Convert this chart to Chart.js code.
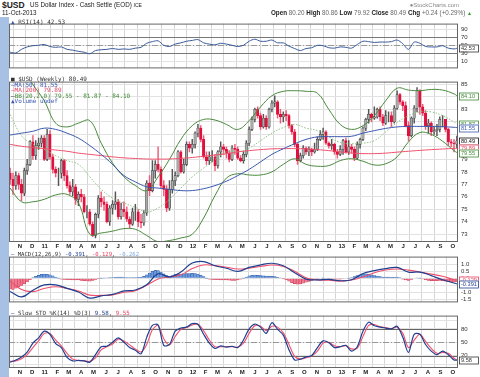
<!DOCTYPE html>
<html>
<head>
<meta charset="utf-8">
<script src="https://cdn.jsdelivr.net/npm/chart.js@4.4.0/dist/chart.umd.min.js"></script>
<style>
  html, body { margin: 0; padding: 0; background: #fff; }
  #wrap { position: relative; width: 480px; height: 377px; overflow: hidden; background: #fff; }
  #strip { position: absolute; left: 0; top: 17px; width: 9px; height: 360px; background: #a7c1e4; }
  canvas { position: absolute; }
  .t { position: absolute; white-space: nowrap; line-height: 1; font-family: "Liberation Sans", Arial, sans-serif; color: #222; }
  .m { position: absolute; white-space: nowrap; line-height: 1; font-family: "DejaVu Sans Mono", monospace; font-size: 6px; color: #333; }
</style>
</head>
<body>
<div id="wrap">
  <div id="strip"></div>
  <canvas id="rsi" width="471" height="58" style="left:9px;top:17px"></canvas>
  <canvas id="price" width="471" height="175" style="left:9px;top:75px"></canvas>
  <canvas id="macd" width="471" height="59" style="left:9px;top:250px"></canvas>
  <canvas id="sto" width="471" height="68" style="left:9px;top:309px"></canvas>

  <div class="t" style="left:2px;top:1px;font-size:8.5px;font-weight:bold">$USD</div>
  <div class="t" style="left:30px;top:2px;font-size:6.3px">US Dollar Index - Cash Settle (EOD) <span style="font-size:5px">ICE</span></div>
  <div class="t" style="left:2px;top:10px;font-size:6.3px">11-Oct-2013</div>
  <div class="t" style="right:21px;top:2px;font-size:6px;color:#8a8a8a">&#9679;StockCharts.com</div>
  <div class="t" style="right:8px;top:10px;font-size:6.3px"><b>Open</b> <span style="color:#666">80.20</span> <b>High</b> <span style="color:#666">80.86</span> <b>Low</b> <span style="color:#666">79.92</span> <b>Close</b> <span style="color:#666">80.49</span> <b>Chg</b> <span style="color:#666">+0.24 (+0.29%)</span> <span style="color:#2a9a2a;font-size:5px">&#9650;</span></div>

  <div class="m" style="left:11px;top:19px"><span style="color:#3a5a9a">&#9650;</span> RSI(14) 42.53</div>

  <div class="m" style="left:11px;top:76px"><span style="color:#333">&#9632;</span> $USD (Weekly) 80.49</div>
  <div class="m" style="left:11px;top:81.5px;color:#3a58b0">&#8212;MA(50) 81.55</div>
  <div class="m" style="left:11px;top:87px;color:#e8405e">&#8212;MA(200) 79.89</div>
  <div class="m" style="left:11px;top:92.5px;color:#3f8a34"><span style="color:#222">&#8212;</span>BB(20,2.0) 79.55 - 81.87 - 84.10</div>
  <div class="m" style="left:11px;top:98px;color:#3a58b0">&#9650;Volume undef</div>

  <div class="m" style="left:11px;top:252px;font-size:5.6px"><span style="color:#1f3f8f">&#8212;</span> MACD(12,26,9) <span style="color:#1f3f8f">-0.391</span>, <span style="color:#e8405e">-0.129</span>, <span style="color:#7aa6e0">-0.262</span></div>
  <div class="m" style="left:11px;top:311px;font-size:5.8px"><span style="color:#1f3f8f">&#8212;</span> Slow STO %K(14) %D(3) <span style="color:#1f3f8f">9.58</span>, <span style="color:#e8405e">9.55</span></div>
</div>

<script>
// ---- weekly candles, 8-Oct-2010 .. 11-Oct-2013 ----
const opens = [77.9,77.4,76.9,77.7,77.0,76.3,78.1,78.6,80.4,79.3, 80.1,80.3,80.7,79.0,81.0,79.2,78.2,77.9,77.9,78.9,
  77.7,76.9,76.4,76.8,75.8,76.2,76.0,74.8,74.8,73.8, 72.9,74.6,75.9,75.6,75.4,74.0,75.1,75.4,75.6,74.4,
  75.0,74.8,74.2,73.8,74.8,74.8,74.0,73.9,74.7,77.1, 76.5,78.1,78.6,78.2,76.9,76.6,75.1,76.6,77.3,77.7,
  79.6,78.0,78.6,80.2,79.9,80.2,81.1,81.5,80.6,79.2, 78.9,79.2,79.2,78.5,79.6,80.0,79.8,79.5,79.0,79.9,
  79.8,79.1,78.9,79.4,80.3,81.4,82.2,83.0,82.5,81.6, 82.3,81.6,83.0,83.5,83.6,82.6,82.4,82.6,82.5,81.7,
  81.2,80.2,78.9,79.3,79.9,79.6,79.8,79.6,79.8,80.6, 81.0,81.2,80.3,80.1,80.2,79.6,79.4,79.8,80.5,79.6,
  80.0,79.8,79.1,80.2,80.6,81.5,82.2,82.6,82.3,82.4, 83.0,82.4,81.9,82.5,82.5,82.0,83.1,84.2,83.6,83.3,
  81.7,80.9,82.3,83.1,84.5,83.2,82.7,81.7,81.9,81.2, 81.3,81.4,82.2,82.2,81.4,80.4,80.3,80.20];
const highs = [78.3,77.9,78.0,77.9,77.4,78.3,79.0,80.5,80.9,80.5, 80.7,80.9,80.9,81.4,81.3,79.4,78.4,78.3,79.0,79.0,
  78.1,77.2,77.4,77.0,76.4,76.6,76.2,75.3,75.0,74.0, 74.7,76.1,76.4,76.0,75.6,75.3,75.7,76.4,75.8,75.5,
  75.6,75.2,74.4,75.1,75.4,75.0,74.6,74.9,77.3,77.7, 78.9,78.9,80.0,78.4,77.3,76.9,77.3,78.2,78.0,79.7,
  79.7,79.0,80.4,80.4,80.6,81.2,81.8,81.7,80.9,79.6, 79.6,79.7,79.4,79.7,80.4,80.2,80.0,79.7,80.1,80.2,
  80.0,79.3,79.6,80.5,81.6,82.4,83.1,83.2,82.7,82.6, 82.5,83.1,83.7,84.1,83.7,83.0,82.8,82.9,82.6,81.8,
  81.4,80.3,79.5,80.1,80.0,80.0,79.9,80.3,80.8,81.3, 81.5,81.3,80.4,80.6,80.3,79.8,80.1,80.6,80.7,80.5,
  80.2,80.0,80.4,80.7,81.6,82.3,83.0,82.7,83.2,83.1, 83.2,82.6,82.9,82.8,82.8,83.3,84.5,84.3,83.7,83.6,
  82.0,82.4,83.3,84.75,84.6,83.4,82.9,82.2,82.0,81.6, 81.8,82.4,82.5,82.2,81.5,80.6,80.6,80.86];
const lows = [77.0,76.2,76.6,76.6,75.7,76.1,77.8,78.5,79.0,79.0, 79.8,80.0,78.9,78.9,79.0,77.9,77.6,76.9,77.5,77.3,
  76.7,76.2,76.1,75.4,75.3,75.6,74.7,74.3,73.7,72.8, 72.7,74.3,75.2,74.9,73.9,73.7,74.6,75.0,74.2,74.2,
  74.4,74.0,73.5,73.7,74.1,73.6,73.5,73.7,74.5,76.1, 76.4,77.5,78.0,76.7,76.1,74.8,74.9,76.3,76.9,77.6,
  77.9,77.9,78.5,79.6,79.5,79.9,80.8,80.4,79.1,78.6, 78.6,78.8,78.1,78.3,79.2,79.4,79.1,78.8,78.9,79.4,
  79.0,78.8,78.7,79.2,80.1,81.3,82.0,82.3,81.4,81.5, 81.4,81.5,82.8,83.2,82.3,81.9,82.0,82.1,81.5,81.0,
  80.0,78.6,78.8,79.1,79.4,79.3,79.3,79.5,79.7,80.5, 80.6,80.2,79.9,79.8,79.4,79.1,79.3,79.4,79.5,79.4,
  79.5,78.9,79.0,79.9,80.5,81.3,81.9,82.0,82.2,82.3, 82.1,81.7,81.8,82.0,81.6,81.9,83.0,83.4,82.9,81.6,
  80.5,80.8,81.9,82.8,82.6,82.5,81.4,81.1,80.9,81.0, 80.9,81.2,81.6,81.2,80.1,80.0,79.6,79.92];
const closes = [77.4,76.9,77.7,77.0,76.3,78.1,78.6,80.4,79.3,80.1, 80.3,80.7,79.0,81.0,79.2,78.2,77.9,77.9,78.9,77.7,
  76.9,76.4,76.8,75.8,76.2,76.0,74.8,74.8,73.8,72.9, 74.6,75.9,75.6,75.4,74.0,75.1,75.4,75.6,74.4,75.0,
  74.8,74.2,73.8,74.8,74.8,74.0,73.9,74.7,77.1,76.5, 78.1,78.6,78.2,76.9,76.6,75.1,76.6,77.3,77.7,79.6,
  78.0,78.6,80.2,79.9,80.2,81.1,81.5,80.6,79.2,78.9, 79.2,79.2,78.5,79.6,80.0,79.8,79.5,79.0,79.9,79.8,
  79.1,78.9,79.4,80.3,81.4,82.2,83.0,82.5,81.6,82.3, 81.6,83.0,83.5,83.6,82.6,82.4,82.6,82.5,81.7,81.2,
  80.2,78.9,79.3,79.9,79.6,79.8,79.6,79.8,80.6,81.0, 81.2,80.3,80.1,80.2,79.6,79.4,79.8,80.5,79.6,80.0,
  79.8,79.1,80.2,80.6,81.5,82.2,82.6,82.3,82.4,83.0, 82.4,81.9,82.5,82.5,82.0,83.1,84.2,83.6,83.3,81.7,
  80.9,82.3,83.1,84.5,83.2,82.7,81.7,81.9,81.2,81.3, 81.4,82.2,82.2,81.4,80.4,80.3,80.25,80.49];

// ---- overlay lines, read every 4 weeks ----
const weeks4 = [0,4,8,12,16,20,24,28,32,36,40,44,48,52,56,60,64,68,72,76,80,84,88,92,96,100,104,108,112,116,120,124,128,132,136,140,144,148,152,156,157];
const ma50 = [80.95,81.1,81.25,81.5,81.4,81.1,80.7,80.1,79.4,78.6, 77.7,77.2,76.8,76.7,76.6,76.5,76.5,76.65,76.9,77.25,
  77.7,78.2,78.8,79.4,79.85,80.25,80.6,80.8,80.82,80.82, 80.85,81.1,81.3,81.48,81.6,81.64,81.64,81.64,81.62,81.57, 81.55];
const ma200 = [80.2,80.05,79.95,79.85,79.75,79.65,79.5,79.4,79.3,79.2, 79.12,79.07,79.03,79.02,79.03,79.08,79.15,79.25,79.35,79.45,
  79.6,79.7,79.78,79.84,79.86,79.86,79.84,79.78,79.7,79.6, 79.5,79.46,79.46,79.5,79.58,79.65,79.72,79.78,79.83,79.88, 79.89];
const bbUpper = [88.5,86.5,85.0,83.7,81.9,81.6,81.9,82.1,80.3,78.7, 77.6,76.9,76.5,77.6,79.0,80.6,81.7,82.2,82.15,81.8,
  81.4,82.1,83.2,84.1,84.45,84.5,84.45,84.3,83.0,81.8, 81.4,81.7,82.5,83.7,84.7,84.55,84.5,84.6,84.55,84.25, 84.10];
const bbMid = [82.6,80.9,80.2,79.8,79.3,78.9,78.6,77.6,76.6,75.9, 75.5,75.15,74.8,75.1,75.8,76.7,77.6,78.3,79.0,79.6,
  79.6,79.9,80.5,81.1,81.55,81.8,81.5,81.3,80.8,80.35, 80.25,80.3,80.5,81.2,81.95,82.5,82.8,82.8,82.5,82.0, 81.87];
const bbLower = [76.7,75.6,75.6,75.8,76.15,76.2,75.5,73.0,73.1,73.25, 73.45,73.4,72.9,72.4,72.5,72.7,73.0,74.3,76.1,77.5,
  77.85,77.75,77.75,78.0,78.6,79.05,78.6,78.45,78.5,78.9, 79.05,78.85,78.55,78.65,79.2,80.4,81.15,81.0,80.45,79.7, 79.55];
const macdLine = [-0.94,-1.33,-0.85,-0.47,-0.46,-0.72,-0.98,-1.41,-1.25,-1.15, -0.9,-0.83,-0.45,0.33,0.1,0.45,1.1,1.2,0.9,0.72,
  0.5,0.78,0.96,1.08,0.9,0.4,-0.05,-0.11,-0.07,-0.17, -0.1,0.35,0.55,0.7,0.78,0.44,0.45,0.2,-0.1,-0.33, -0.391];
const signalLine = [-0.2,-0.8,-0.95,-0.72,-0.6,-0.72,-0.9,-1.2,-1.22,-1.18, -1.0,-0.88,-0.5,-0.05,0.1,0.25,0.7,0.96,0.91,0.8,
  0.67,0.72,0.85,0.95,0.85,0.5,0.05,-0.11,-0.13,-0.2, -0.12,0.1,0.4,0.6,0.67,0.59,0.45,0.3,0.15,-0.1, -0.129];
// weekly MACD histogram
const macdHist = [-0.75,-0.8,-0.7,-0.6,-0.5,-0.4,-0.25,-0.1, 0.05,0.15,0.22,0.28,0.3,0.28,0.25,0.18,
  0.1,0.02,-0.05,-0.08,-0.1,-0.1,-0.12,-0.12, -0.12,-0.14,-0.16,-0.18,-0.2,-0.15,-0.08,-0.02,
  0.02,0.03,0.04,0.05,0.06,0.08,0.1,0.1, 0.08,0.06,0.05,0.06,0.06,0.08,0.1,0.15,
  0.25,0.38,0.5,0.58,0.55,0.45,0.32,0.2, 0.15,0.2,0.28,0.3,0.3,0.32,0.35,0.35,
  0.36,0.34,0.3,0.22,0.12,0.02,-0.05,-0.08, -0.1,-0.1,-0.12,-0.12,-0.12,-0.13,-0.14,-0.14,
  -0.12,-0.06,0.02,0.1,0.18,0.22,0.24,0.22, 0.2,0.18,0.16,0.15,0.14,0.12,0.08,0.04,
  -0.02,-0.1,-0.2,-0.3,-0.38,-0.42,-0.4,-0.34, -0.28,-0.22,-0.15,-0.1,-0.05,0.0,0.02,0.0,
  -0.03,-0.05,-0.05,-0.06,-0.05,-0.03,0.0,0.02, 0.05,0.12,0.2,0.26,0.3,0.32,0.3,0.26,
  0.2,0.16,0.12,0.1,0.1,0.1,0.08,0.08, 0.1,0.05,-0.05,-0.12,-0.14,-0.08,0.0,0.04,
  0.02,-0.04,-0.1,-0.14,-0.16,-0.17,-0.16,-0.14, -0.16,-0.2,-0.24,-0.25,-0.26,-0.262];

// ---- oscillators, read every 2 weeks ----
const weeks2 = [0,2,4,6,8,10,12,14,16,18,20,22,24,26,28,30,32,34,36,38,40,42,44,46,48,50,52,54,56,58,
  60,62,64,66,68,70,72,74,76,78,80,82,84,86,88,90,92,94,96,98,100,102,104,106,108,110,112,114,116,118,
  120,122,124,126,128,130,132,134,136,138,140,142,144,146,148,150,152,154,156,157];
const rsi = [33,31,40,46,49,50,52,47,45,46, 40,38,35,33,29,37,39,40,42,40, 41,40,43,45,55,59,61,50,47,53,
  56,60,62,64,56,53,51,55,53,50, 47,50,60,65,60,60,63,56,56,48, 42,37,42,44,50,49,44,43,46,45,
  43,52,60,59,57,58,58,59,63,54, 40,58,55,47,46,46,49,43,41,42.53];
const stoK = [5,10,17,28,48,60,75,68,47,38, 16,8,9,8,5,22,40,41,50,60, 50,38,32,24,61,88,89,43,45,75,
  82,84,92,90,68,48,36,42,39,41, 38,55,80,91,84,70,94,79,66,33, 10,12,17,20,38,53,49,38,40,43,
  30,40,75,95,87,84,82,80,86,61, 27,68,68,45,30,22,30,22,10,9.58];
const stoD = [7,8,13,22,38,53,70,70,55,42, 25,12,9,8,7,15,33,40,46,57, 53,44,35,28,45,78,88,58,44,63,
  79,83,89,91,76,55,40,40,40,40, 39,48,70,87,86,76,86,84,71,45, 18,12,15,19,30,48,50,42,40,42,
  35,37,63,88,90,85,83,81,84,70, 38,55,68,52,36,25,27,25,14,9.55];

// ---- axis labels ----
const monthLabels = ['N','D','11','F','M','A','M','J','J','A','S','O','N','D','12','F','M','A','M','J','J','A','S','O',
  'N','D','13','F','M','A','M','J','J','A','S','O'];
const firstWeek = Date.UTC(2010, 9, 8);
const monthPos = monthLabels.map((_, k) => (Date.UTC(2010, 10 + k, 1) - firstWeek) / (7 * 864e5));

const FONT = '"Liberation Sans", Arial, sans-serif';

const pts = (xs, ys) => xs.map((x, k) => ({ x, y: ys[k] }));
const line = (xs, ys, color, extra) => Object.assign({
  type: 'line', data: pts(xs, ys), borderColor: color, borderWidth: 1,
  pointRadius: 0, tension: 0.4, fill: false
}, extra || {});

// horizontal reference levels (70/50/30 etc.)
const refPlugin = {
  id: 'refLines',
  beforeDatasetsDraw(chart, args, opts) {
    const { ctx, chartArea: a, scales: { y } } = chart;
    ctx.save();
    for (const l of opts.lines) {
      const py = Math.round(y.getPixelForValue(l.v)) + 0.5;
      ctx.strokeStyle = l.c;
      ctx.lineWidth = l.w || 1;
      ctx.setLineDash(l.d || []);
      ctx.beginPath();
      ctx.moveTo(a.left, py);
      ctx.lineTo(a.right, py);
      ctx.stroke();
    }
    ctx.restore();
  }
};

// boxed last-value tags on the right axis
const tagPlugin = {
  id: 'tags',
  afterDraw(chart, args, opts) {
    const { ctx, chartArea: a, scales: { y } } = chart;
    ctx.save();
    ctx.font = '5.6px ' + FONT;
    ctx.textBaseline = 'middle';
    for (const t of opts.items) {
      const py = Math.round(y.getPixelForValue(t.v));
      ctx.fillStyle = '#fff';
      ctx.fillRect(a.right + 1, py - 3.5, 20, 7);
      ctx.strokeStyle = t.c;
      ctx.lineWidth = 0.8;
      ctx.strokeRect(a.right + 1.5, py - 3, 19, 7);
      ctx.fillStyle = t.c;
      ctx.fillText(t.text, a.right + 3, py + 0.5);
    }
    ctx.restore();
  }
};

const framePlugin = {
  id: 'frame',
  afterDatasetsDraw(chart) {
    const { ctx, chartArea: a } = chart;
    ctx.save();
    ctx.strokeStyle = '#666';
    ctx.lineWidth = 1;
    ctx.strokeRect(a.left + 0.5, a.top + 0.5, a.width - 1, a.height - 1);
    ctx.restore();
  }
};

function panel(id, cfg) {
  return new Chart(document.getElementById(id), {
    type: 'bar',
    data: { datasets: cfg.datasets },
    options: {
      responsive: false,
      animation: false,
      events: [],
      layout: { padding: 0 },
      plugins: {
        legend: { display: false },
        tooltip: { enabled: false },
        refLines: { lines: cfg.lines || [] },
        tags: { items: cfg.tags || [] }
      },
      scales: {
        x: {
          type: 'linear', min: -0.4, max: 157.4, offset: false,
          afterBuildTicks: (s) => { s.ticks = monthPos.map((v) => ({ value: v })); },
          afterFit: (s) => { s.height = cfg.xh; },
          ticks: {
            display: cfg.xh > 0, autoSkip: false, maxRotation: 0, padding: 1,
            color: '#222', font: { size: 6, weight: 'bold', family: FONT },
            callback: (v, i) => monthLabels[i]
          },
          grid: { color: '#d6d6d6', drawTicks: false },
          border: { display: false }
        },
        y: {
          position: 'right', min: cfg.min, max: cfg.max,
          afterBuildTicks: (s) => { s.ticks = cfg.ticks.map((v) => ({ value: v })); },
          afterFit: (s) => { s.width = 22; },
          ticks: {
            autoSkip: false, padding: 3, color: '#333', font: { size: 6, family: FONT },
            callback: cfg.fmt
          },
          grid: { color: '#e2e2e2', drawTicks: false },
          border: { display: false }
        }
      }
    },
    plugins: [refPlugin, tagPlugin, framePlugin]
  });
}

// ---- RSI ----
panel('rsi', {
  min: -7, max: 103.5, xh: 0,
  ticks: [10, 30, 50, 70, 90],
  fmt: (v) => String(v),
  lines: [
    { v: 70, c: '#777' }, { v: 30, c: '#777' },
    { v: 50, c: '#999', d: [6, 2, 1, 2] }
  ],
  tags: [{ v: 42.53, text: '42.53', c: '#333' }],
  datasets: [line(weeks2, rsi, '#3a5a9a', { tension: 0.3 })]
});

// ---- Price ----
const up = closes.map((c, i) => c >= opens[i]);
panel('price', {
  min: 72.38, max: 85.23, xh: 8,
  ticks: [73, 74, 75, 76, 77, 78, 79, 80, 81, 82, 83, 84, 85],
  fmt: (v) => ([80, 81, 82, 84].includes(v) ? '' : String(v)),
  tags: [
    { v: 84.10, text: '84.10', c: '#3f8a34' },
    { v: 81.87, text: '81.87', c: '#3f8a34' },
    { v: 81.55, text: '81.55', c: '#3a58b0' },
    { v: 80.49, text: '80.49', c: '#111' },
    { v: 79.89, text: '79.89', c: '#e8405e' },
    { v: 79.55, text: '79.55', c: '#3f8a34' }
  ],
  datasets: [
    line(weeks4, ma50, '#3a58b0'),
    line(weeks4, ma200, '#f0506c'),
    line(weeks4, bbUpper, '#4a8a3c'),
    line(weeks4, bbLower, '#4a8a3c'),
    line(weeks4, bbMid, '#8cc482', { borderDash: [1.5, 1.5] }),
    {
      data: closes.map((c, i) => ({ x: i, y: [opens[i], c] })),
      backgroundColor: up.map((u) => (u ? '#a9a9a9' : '#e2103c')),
      borderColor: up.map((u) => (u ? '#333' : '#e2103c')),
      borderWidth: 0.5, borderSkipped: false,
      barThickness: 2.4, grouped: false
    },
    {
      data: highs.map((h, i) => ({ x: i, y: [lows[i], h] })),
      backgroundColor: up.map((u) => (u ? '#555' : '#ef5b7a')),
      barThickness: 0.8, grouped: false
    }
  ]
});

// ---- MACD ----
panel('macd', {
  min: -1.72, max: 1.556, xh: 0,
  ticks: [-1.5, -1.0, -0.5, 0, 0.5, 1.0],
  fmt: (v) => (v === -0.5 ? '' : v.toFixed(1)),
  tags: [
    { v: -0.129, text: '-0.129', c: '#e8405e' },
    { v: -0.391, text: '-0.391', c: '#1f3f8f' }
  ],
  datasets: [
    line(weeks4, macdLine, '#1f3f8f', { borderWidth: 1.2 }),
    line(weeks4, signalLine, '#f0506c', { borderWidth: 1.1 }),
    {
      data: macdHist.map((h, i) => ({ x: i, y: h })),
      backgroundColor: macdHist.map((h) => (h >= 0 ? '#6d9be0' : '#f07a90')),
      borderColor: macdHist.map((h) => (h >= 0 ? '#2d55a0' : '#c8304e')),
      borderWidth: 0.5, barThickness: 2.6, grouped: false
    }
  ]
});

// ---- Slow Stochastic ----
panel('sto', {
  min: -8, max: 110, xh: 9,
  ticks: [0, 20, 50, 80, 100],
  fmt: (v) => ([20, 50, 80].includes(v) ? String(v) : ''),
  lines: [
    { v: 80, c: '#666' }, { v: 20, c: '#666' },
    { v: 50, c: '#999', d: [6, 2, 1, 2] }
  ],
  tags: [{ v: 9.58, text: '9.58', c: '#333' }],
  datasets: [
    line(weeks2, stoK, '#1f3f8f', { borderWidth: 1.2, tension: 0.3 }),
    line(weeks2, stoD, '#f0506c', { borderWidth: 1.1, tension: 0.3 })
  ]
});
</script>
</body>
</html>
